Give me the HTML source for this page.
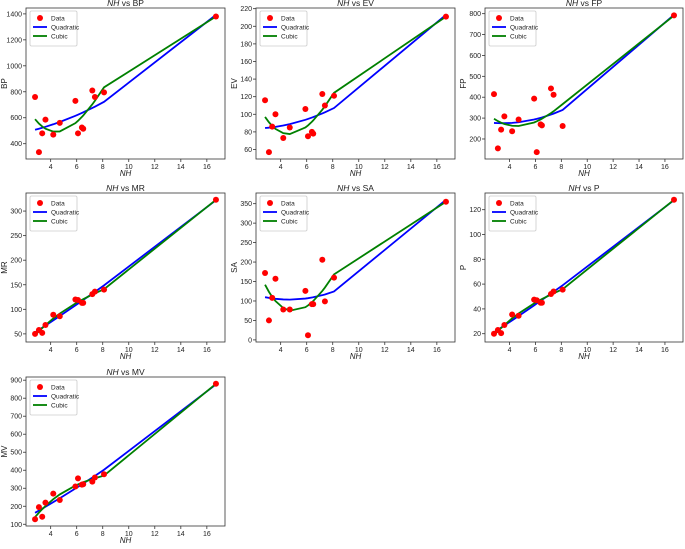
<!DOCTYPE html>
<html><head><meta charset="utf-8"><style>
body{margin:0;background:#fff;width:685px;height:544px;overflow:hidden;font-family:"Liberation Sans",sans-serif;}
svg text{font-family:"Liberation Sans",sans-serif;fill:#222;}
</style></head><body>
<svg id="fig" width="685" height="544" xmlns="http://www.w3.org/2000/svg"></svg>
<script>
const nh = [2.8,3.1,3.35,3.6,4.2,4.7,5.9,6.1,6.4,6.5,7.2,7.4,8.1,16.7];
const bpVals = [760,335,480,585,470,560,730,480,525,515,810,760,795,1380];
const evVals = [116,57,86,100,73,85,106,75,80,78,123,110,121,211];
const fpVals = [415,155,245,308,237,293,393,137,270,265,442,412,262,792];
const mrVals = [50,58,52,68,89,86,120,119,113,113,131,136,140,323];
const saVals = [172,50,108,157,78,78,126,12,92,92,206,99,160,355];
const pVals = [20,23,20.5,27,35.5,34.5,47.5,47,45,45,52,54,55.5,128];
const mvVals = [128,195,142,220,270,235,310,355,320,322,337,360,378,880];
const xTicks = [4,6,8,10,12,14,16];
const bpTicks = [400,600,800,1000,1200,1400];
const evTicks = [60,80,100,120,140,160,180,200,220];
const fpTicks = [200,300,400,500,600,700,800];
const mrTicks = [50,100,150,200,250,300];
const saTicks = [0,50,100,150,200,250,300,350];
const pTicks = [20,40,60,80,100,120];
const mvTicks = [100,200,300,400,500,600,700,800,900];

const panels = [
 {name:'BP',vals:bpVals,ticks:bpTicks,l:26,t:8,r:225,b:159},
 {name:'EV',vals:evVals,ticks:evTicks,l:256,t:8,r:455,b:159},
 {name:'FP',vals:fpVals,ticks:fpTicks,l:485,t:8,r:683,b:159},
 {name:'MR',vals:mrVals,ticks:mrTicks,l:26,t:193,r:225,b:342},
 {name:'SA',vals:saVals,ticks:saTicks,l:256,t:193,r:455,b:342},
 {name:'P',vals:pVals,ticks:pTicks,l:485,t:193,r:683,b:342},
 {name:'MV',vals:mvVals,ticks:mvTicks,l:26,t:377,r:225,b:526}
];
const NS='http://www.w3.org/2000/svg';
const svg=document.getElementById('fig');
function mk(tag,attrs,parent){const e=document.createElementNS(NS,tag);for(const k in attrs)e.setAttribute(k,attrs[k]);(parent||svg).appendChild(e);return e;}
function polyfit(xs,ys,deg){
 const n=deg+1;const A=[];for(let i=0;i<n;i++){A.push(new Array(n+1).fill(0));}
 for(let k=0;k<xs.length;k++){for(let i=0;i<n;i++){for(let j=0;j<n;j++)A[i][j]+=Math.pow(xs[k],i+j);A[i][n]+=ys[k]*Math.pow(xs[k],i);}}
 for(let i=0;i<n;i++){let p=i;for(let r=i+1;r<n;r++)if(Math.abs(A[r][i])>Math.abs(A[p][i]))p=r;[A[i],A[p]]=[A[p],A[i]];
  for(let r=0;r<n;r++){if(r===i)continue;const f=A[r][i]/A[i][i];for(let c=i;c<=n;c++)A[r][c]-=f*A[i][c];}}
 return A.map((row,i)=>row[n]/row[i]);
}
function pv(c,x){return c.reduce((s,ci,i)=>s+ci*Math.pow(x,i),0);}

panels.forEach(p=>{
 const g=mk('g',{});
 
 
 const q=polyfit(nh,p.vals,2),cu=polyfit(nh,p.vals,3);
 const qv=nh.map(x=>pv(q,x)),cv=nh.map(x=>pv(cu,x));
 const all=p.vals.concat(qv,cv);
 let ymin=Math.min(...all),ymax=Math.max(...all);const yr=ymax-ymin;ymin-=yr*0.05;ymax+=yr*0.05;
 let xmin=Math.min(...nh),xmax=Math.max(...nh);const xr=xmax-xmin;xmin-=xr*0.05;xmax+=xr*0.05;
 const X=v=>p.l+(v-xmin)/(xmax-xmin)*(p.r-p.l);
 const Y=v=>p.b-(v-ymin)/(ymax-ymin)*(p.b-p.t);
 xTicks.forEach(t=>{const x=X(t);if(x<p.l||x>p.r)return;
  mk('line',{x1:x,x2:x,y1:p.b,y2:p.b+3,stroke:'#333','stroke-width':0.8},g);
  const tx=mk('text',{x:x,y:p.b+10,'font-size':7,'text-anchor':'middle'},g);tx.textContent=t;
  });
 p.ticks.forEach(t=>{const y=Y(t);if(y<p.t||y>p.b)return;
  mk('line',{x1:p.l-3,x2:p.l,y1:y,y2:y,stroke:'#333','stroke-width':0.8},g);
  const tx=mk('text',{x:p.l-4,y:y+2.5,'font-size':7,'text-anchor':'end'},g);tx.textContent=t;
  });
 const qp=mk('polyline',{points:nh.map((x,i)=>X(x)+','+Y(qv[i])).join(' '),fill:'none',stroke:'#0000ff','stroke-width':1.8},g);
 
 const cp=mk('polyline',{points:nh.map((x,i)=>X(x)+','+Y(cv[i])).join(' '),fill:'none',stroke:'#008000','stroke-width':1.8},g);
 
 nh.forEach((x,i)=>{const c=mk('circle',{cx:X(x),cy:Y(p.vals[i]),r:3,fill:'#ff0000'},g);
  });
 mk('rect',{x:p.l,y:p.t,width:p.r-p.l,height:p.b-p.t,fill:'none',stroke:'#333','stroke-width':0.8},g);
 const ti=mk('text',{x:(p.l+p.r)/2,y:p.t-2,'font-size':8.5,'text-anchor':'middle'},g);
 ti.innerHTML='<tspan font-style="italic">NH</tspan> vs '+p.name;
 
 const xl=mk('text',{x:(p.l+p.r)/2,y:p.b+17,'font-size':8,'text-anchor':'middle','font-style':'italic'},g);xl.textContent='NH';
 
 const yx=p.l-19,yy=(p.t+p.b)/2;
 const yl=mk('text',{x:yx,y:yy,'font-size':8,'text-anchor':'middle',transform:'rotate(-90 '+yx+' '+yy+')'},g);yl.textContent=p.name;
 
 const lg=mk('g',{},g);
 const lx=p.l+4,ly=p.t+3;
 mk('rect',{x:lx,y:ly,width:47,height:35,fill:'#fff',stroke:'#ccc','stroke-width':0.8,rx:1.5},lg);
 mk('circle',{cx:lx+10,cy:ly+7,r:3,fill:'#ff0000'},lg);
 mk('line',{x1:lx+3,x2:lx+17,y1:ly+16,y2:ly+16,stroke:'#0000ff','stroke-width':1.8},lg);
 mk('line',{x1:lx+3,x2:lx+17,y1:ly+25,y2:ly+25,stroke:'#008000','stroke-width':1.8},lg);
 [['Data',9.5],['Quadratic',18.5],['Cubic',27.5]].forEach(([s,o])=>{const t=mk('text',{x:lx+21,y:ly+o,'font-size':6.5},lg);t.textContent=s;
  });
});
</script>
</body></html>
